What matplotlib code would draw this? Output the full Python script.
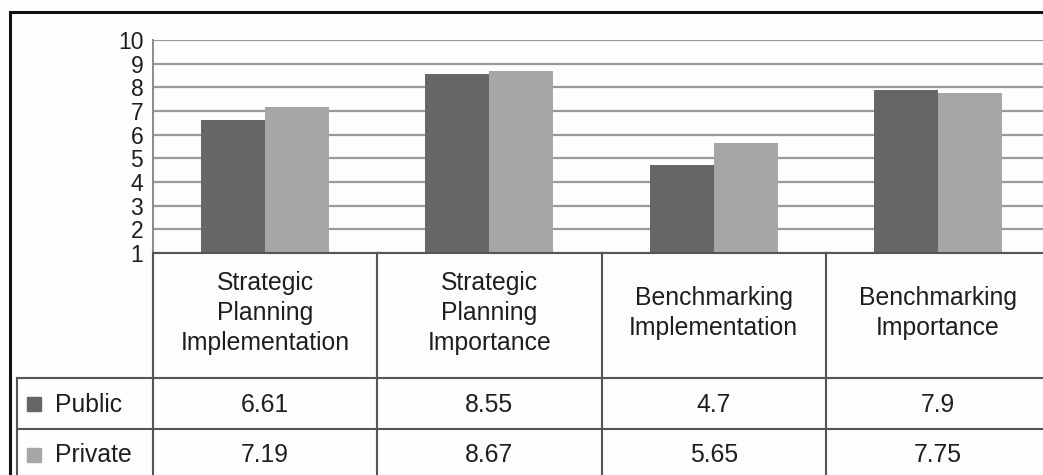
import matplotlib
matplotlib.use("Agg")
import matplotlib.pyplot as plt
import numpy as np

categories = ["Strategic\nPlanning\nImplementation", "Strategic\nPlanning\nImportance",
              "Benchmarking\nImplementation", "Benchmarking\nImportance"]
series_names = ["Public", "Private"]
public = [6.61, 8.55, 4.7, 7.9]
private = [7.19, 8.67, 5.65, 7.75]
public_labels = ["6.61", "8.55", "4.7", "7.9"]
private_labels = ["7.19", "8.67", "5.65", "7.75"]
yticks = [1, 2, 3, 4, 5, 6, 7, 8, 9, 10]

colors = ["#666666", "#a6a6a6"]
FONT = "Liberation Sans"
FS = 17.8
FS_TICK = 16.5
TXT = "#1e1e1e"
LINE = "#555555"

W, H = 1043, 475
fig = plt.figure(figsize=(W / 100, H / 100), dpi=100)
fig.patch.set_facecolor("#fdfdfd")

# plot area in pixel layout
L, R, T, B = 153, 1050, 40, 253
ax = fig.add_axes([L / W, (H - B) / H, (R - L) / W, (B - T) / H])
ax.set_facecolor("#fdfdfd")
x = np.arange(len(categories))
bw = 0.285
ax.bar(x - bw / 2, public, bw, color=colors[0], zorder=3)
ax.bar(x + bw / 2, private, bw, color=colors[1], zorder=3)
ax.set_xlim(-0.5, len(categories) - 0.5)
ax.set_ylim(1, 10)
ax.set_yticks(yticks)
ax.set_yticklabels([str(v) for v in yticks], fontfamily=FONT, fontsize=FS_TICK, color=TXT)
ax.tick_params(axis="y", length=0, pad=7)
ax.set_xticks([])
ax.yaxis.grid(True, color="#999999", linewidth=1.6, zorder=0)
for s in ["top", "right", "bottom"]:
    ax.spines[s].set_visible(False)
ax.spines["left"].set_color("#8a8a8a")
ax.spines["left"].set_linewidth(1.4)

# overlay in pixel coordinates for the data table
ov = fig.add_axes([0, 0, 1, 1], zorder=5)
ov.set_xlim(0, W)
ov.set_ylim(H, 0)
ov.axis("off")
ov.patch.set_alpha(0)

def px(xd):
    return ax.transData.transform((xd, 1))[0]

bounds = [px(i - 0.5) for i in range(len(categories) + 1)]
centers = [px(i) for i in range(len(categories))]

row_top = 378
row_mid = 429
row_h = row_mid - row_top
lw = 1.5
# axis bottom / table top
ov.plot([bounds[0], bounds[-1]], [B, B], color=LINE, lw=lw)
for bx in bounds:
    ov.plot([bx, bx], [B, H + 5], color=LINE, lw=lw)
ov.plot([17, bounds[-1]], [row_top, row_top], color=LINE, lw=lw)
ov.plot([17, bounds[-1]], [row_mid, row_mid], color=LINE, lw=lw)
ov.plot([17, 17], [row_top, H + 5], color=LINE, lw=lw)

# outer frame
ov.plot([10, 10, W + 5], [H + 5, 12, 12], color="#111111", lw=2.2, solid_joinstyle="miter")

# header labels
for c, lab in zip(centers, categories):
    ov.text(c, 313, lab, ha="center", va="center", fontfamily=FONT, fontsize=FS,
            color=TXT, linespacing=1.3)

# rows
rows = [(series_names[0], colors[0], public_labels), (series_names[1], colors[1], private_labels)]
for k, (name, col, labs) in enumerate(rows):
    yc = row_top + row_h * (k + 0.5) + 1
    ov.add_patch(plt.Rectangle((27, yc - 7.5), 14, 14, color=col))
    ov.text(55, yc, name, ha="left", va="center", fontfamily=FONT, fontsize=FS, color=TXT)
    for c, v in zip(centers, labs):
        ov.text(c, yc, v, ha="center", va="center", fontfamily=FONT, fontsize=FS, color=TXT)

fig.savefig("out.png", dpi=100, facecolor=fig.get_facecolor())
